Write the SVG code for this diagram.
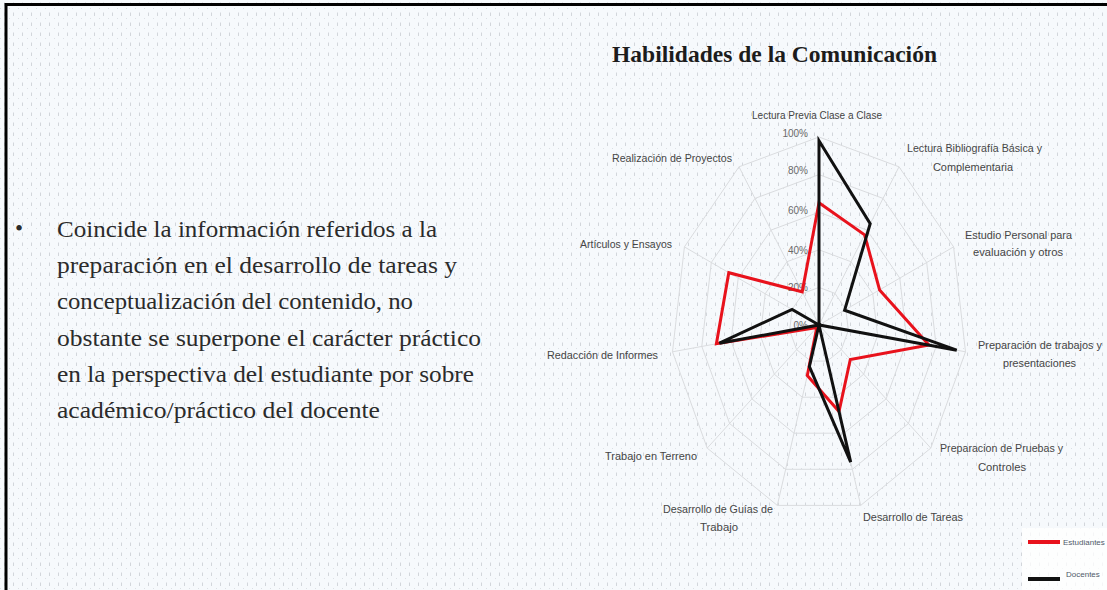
<svg xmlns="http://www.w3.org/2000/svg" width="1107" height="590" viewBox="0 0 1107 590">
<defs>
<pattern id="bg" x="0" y="0" width="9" height="10" patternUnits="userSpaceOnUse">
<rect width="9" height="10" fill="#f6f9fc"/>
<line x1="4.5" y1="2.5" x2="4.5" y2="6" stroke="#c9cdd3" stroke-width="0.8"/>
<circle cx="0.5" cy="8.5" r="0.5" fill="#d3d7dc"/>
</pattern>
<style>
.lbl{font-family:"Liberation Sans","DejaVu Sans",sans-serif;font-size:11px;fill:#454545}
.pct{font-family:"Liberation Sans","DejaVu Sans",sans-serif;font-size:10px;fill:#6a6a6a;text-anchor:end}
.body{font-family:"Liberation Serif","DejaVu Serif",serif;font-size:23px;fill:#2b2b2b}
.grid{fill:none;stroke:#dadcdf;stroke-width:1}
.spoke{stroke:#dadcdf;stroke-width:1}
.ser{fill:none;stroke-width:3;stroke-linejoin:miter}
.leg{font-family:"Liberation Sans","DejaVu Sans",sans-serif;font-size:8px;fill:#505a6a}
</style>
</defs>
<rect width="1107" height="590" fill="url(#bg)"/>
<path d="M6 590 V4.5 H1107" fill="none" stroke="#000" stroke-width="3"/>

<g id="texto">
<text class="body" x="15" y="236">•</text>
<text class="body" x="57" y="237" textLength="380" lengthAdjust="spacingAndGlyphs">Coincide la información referidos a la</text>
<text class="body" x="57" y="273" textLength="400" lengthAdjust="spacingAndGlyphs">preparación en el desarrollo de tareas y</text>
<text class="body" x="57" y="309" textLength="356" lengthAdjust="spacingAndGlyphs">conceptualización del contenido, no</text>
<text class="body" x="57" y="346" textLength="424" lengthAdjust="spacingAndGlyphs">obstante se superpone el carácter práctico</text>
<text class="body" x="57" y="382" textLength="417" lengthAdjust="spacingAndGlyphs">en la perspectiva del estudiante por sobre</text>
<text class="body" x="57" y="418" textLength="323" lengthAdjust="spacingAndGlyphs">académico/práctico del docente</text>
</g>

<g id="titulo">
<text x="612" y="62" font-family="Liberation Serif, DejaVu Serif, serif" font-size="23" font-weight="bold" fill="#1c1c1c" textLength="325" lengthAdjust="spacingAndGlyphs">Habilidades de la Comunicación</text>
</g>

<g id="rejilla">
<polygon class="grid" points="819,287.4 835,293.4 845.9,309.4 848.3,330.4 841.4,349.6 827.3,361.1 810.7,361.1 796.6,349.6 789.7,330.4 792.1,309.4 803,293.4"/>
<polygon class="grid" points="819,249.8 851,261.7 872.8,293.8 877.6,335.7 863.7,374.2 835.7,397.2 802.3,397.2 774.3,374.2 760.4,335.7 765.2,293.8 787,261.7"/>
<polygon class="grid" points="819,212.2 867,230.1 899.8,278.1 906.9,341.1 886.1,398.9 844,433.2 794,433.2 751.9,398.9 731.1,341.1 738.2,278.1 771,230.1"/>
<polygon class="grid" points="819,174.6 883,198.4 926.7,262.5 936.2,346.4 908.4,423.5 852.4,469.3 785.6,469.3 729.6,423.5 701.8,346.4 711.3,262.5 755,198.4"/>
<polygon class="grid" points="819,137 899,166.8 953.6,246.9 965.5,351.8 930.8,448.1 860.7,505.4 777.3,505.4 707.2,448.1 672.5,351.8 684.4,246.9 739,166.8"/>
<g class="spoke">
<line x1="819" y1="325" x2="819" y2="137"/>
<line x1="819" y1="325" x2="899" y2="166.8"/>
<line x1="819" y1="325" x2="953.6" y2="246.9"/>
<line x1="819" y1="325" x2="965.5" y2="351.8"/>
<line x1="819" y1="325" x2="930.8" y2="448.1"/>
<line x1="819" y1="325" x2="860.7" y2="505.4"/>
<line x1="819" y1="325" x2="777.3" y2="505.4"/>
<line x1="819" y1="325" x2="707.2" y2="448.1"/>
<line x1="819" y1="325" x2="672.5" y2="351.8"/>
<line x1="819" y1="325" x2="684.4" y2="246.9"/>
<line x1="819" y1="325" x2="739" y2="166.8"/>
</g>
<text class="pct" x="808" y="137">100%</text>
<text class="pct" x="808" y="174">80%</text>
<text class="pct" x="808" y="214">60%</text>
<text class="pct" x="808" y="254">40%</text>
<text class="pct" x="808" y="291">20%</text>
<text class="pct" x="808" y="329">0%</text>
</g>

<g id="series">
<polygon id="estudiantes" class="ser" stroke="#e8121c" points="819,202.8 864.6,234.8 879.6,289.9 928.9,345.1 850.3,359.5 839,411.6 807.3,375.5 816.8,327.5 716.4,343.8 728.8,272.7 802.2,291.8"/>
<polygon id="docentes" class="ser" stroke="#111" points="819,140.8 870.2,223.8 844.6,310.2 956.7,350.2 819,325 850.7,462.1 809.4,366.5 819,325 719.4,343.2 792.1,309.4 819,325"/>
</g>

<g id="etiquetas">
<text class="lbl" x="752" y="119" textLength="130" lengthAdjust="spacingAndGlyphs">Lectura Previa Clase a Clase</text>
<text class="lbl" x="907" y="152" textLength="135" lengthAdjust="spacingAndGlyphs">Lectura Bibliografía Básica y</text>
<text class="lbl" x="933" y="171" textLength="80" lengthAdjust="spacingAndGlyphs">Complementaria</text>
<text class="lbl" x="965" y="239" textLength="107" lengthAdjust="spacingAndGlyphs">Estudio Personal para</text>
<text class="lbl" x="973" y="256" textLength="90" lengthAdjust="spacingAndGlyphs">evaluación y otros</text>
<text class="lbl" x="978" y="349" textLength="124" lengthAdjust="spacingAndGlyphs">Preparación de trabajos y</text>
<text class="lbl" x="1003" y="367" textLength="73" lengthAdjust="spacingAndGlyphs">presentaciones</text>
<text class="lbl" x="940" y="452" textLength="123" lengthAdjust="spacingAndGlyphs">Preparacion de Pruebas y</text>
<text class="lbl" x="978" y="471" textLength="48" lengthAdjust="spacingAndGlyphs">Controles</text>
<text class="lbl" x="863" y="521" textLength="100" lengthAdjust="spacingAndGlyphs">Desarrollo de Tareas</text>
<text class="lbl" x="663" y="513" textLength="110" lengthAdjust="spacingAndGlyphs">Desarrollo de Guías de</text>
<text class="lbl" x="700" y="531" textLength="38" lengthAdjust="spacingAndGlyphs">Trabajo</text>
<text class="lbl" x="605" y="460" textLength="92" lengthAdjust="spacingAndGlyphs">Trabajo en Terreno</text>
<text class="lbl" x="547" y="359" textLength="111" lengthAdjust="spacingAndGlyphs">Redacción de Informes</text>
<text class="lbl" x="580" y="248" textLength="92" lengthAdjust="spacingAndGlyphs">Artículos y Ensayos</text>
<text class="lbl" x="612" y="162" textLength="120" lengthAdjust="spacingAndGlyphs">Realización de Proyectos</text>
</g>

<g id="leyenda">
<rect x="1022" y="528" width="85" height="62" fill="#ffffff" opacity="0.75"/>
<line x1="1028" y1="542" x2="1060" y2="542" stroke="#e8121c" stroke-width="4"/>
<text class="leg" x="1063" y="545">Estudiantes</text>
<line x1="1028" y1="579" x2="1060" y2="579" stroke="#111" stroke-width="4"/>
<text class="leg" x="1066" y="577" fill="#505050">Docentes</text>
</g>
</svg>
